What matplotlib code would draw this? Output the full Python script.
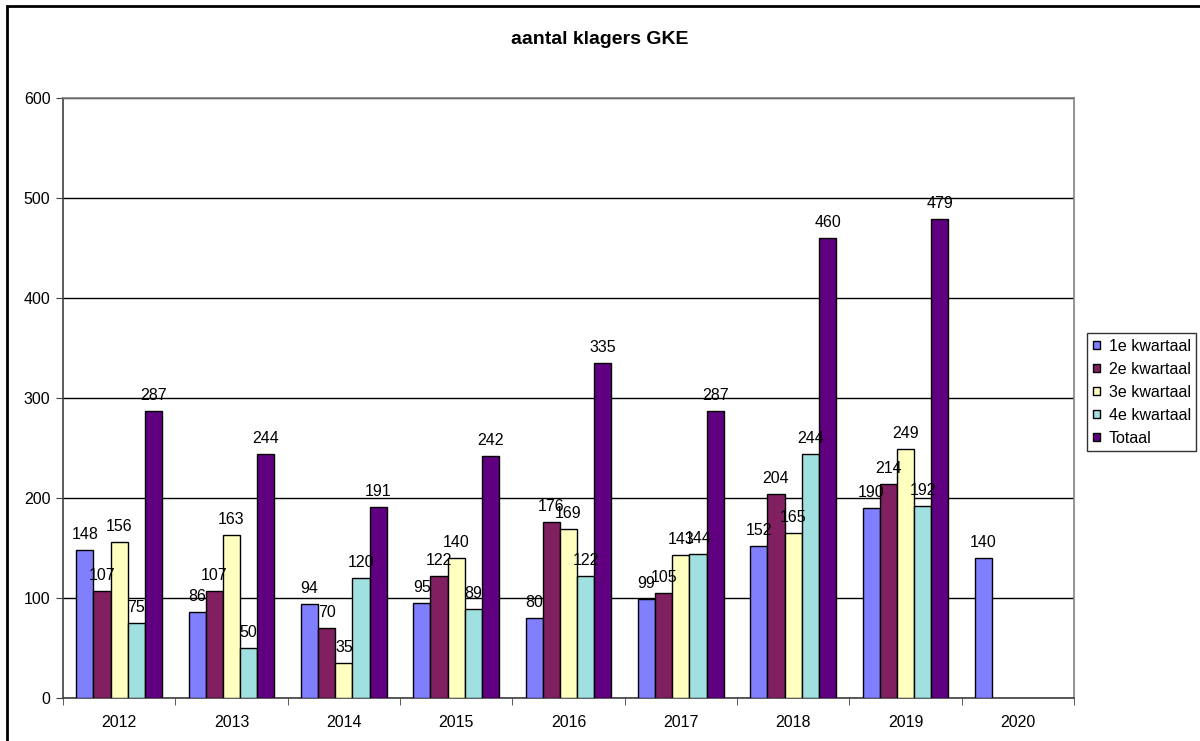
import matplotlib.pyplot as plt
import numpy as np
from matplotlib.patches import Rectangle

plt.rcParams['font.family'] = ['Liberation Sans', 'DejaVu Sans']

years = ["2012", "2013", "2014", "2015", "2016", "2017", "2018", "2019", "2020"]
kw1 = [148, 86, 94, 95, 80, 99, 152, 190, 140]
kw2 = [107, 107, 70, 122, 176, 105, 204, 214, None]
kw3 = [156, 163, 35, 140, 169, 143, 165, 249, None]
kw4 = [75, 50, 120, 89, 122, 144, 244, 192, None]
totaal = [287, 244, 191, 242, 335, 287, 460, 479, None]

series = [
    ("1e kwartaal", kw1, "#8080FF"),
    ("2e kwartaal", kw2, "#802060"),
    ("3e kwartaal", kw3, "#FFFFC0"),
    ("4e kwartaal", kw4, "#A0E0E0"),
    ("Totaal", totaal, "#600080"),
]

fs = 11.5

fig = plt.figure(figsize=(12, 7.41), dpi=100)
ax = fig.add_axes([63 / 1200, 1 - 698 / 741, (1074 - 63) / 1200, 600 / 741])

x = np.arange(len(years))
w = 0.153
for k, (name, vals, col) in enumerate(series):
    xs = [x[i] + (k - 2) * w for i in range(len(years)) if vals[i] is not None]
    vs = [v for v in vals if v is not None]
    ax.bar(xs, vs, width=w, color=col, edgecolor="black", linewidth=1, label=name, zorder=3)
    for xi, v in zip(xs, vs):
        ax.annotate(str(v), (xi, v), xytext=(0, 6), textcoords="offset points",
                    ha="center", va="bottom", fontsize=fs, zorder=4)

ax.set_xlim(-0.5, len(years) - 0.5)
ax.set_ylim(0, 600)
ax.set_yticks(range(0, 601, 100))
ax.yaxis.grid(True, color="black", linewidth=1, zorder=0)
ax.set_xticks(x)
ax.set_xticklabels(years, fontsize=fs)
ax.set_xticks(np.arange(-0.5, len(years)), minor=True)
ax.tick_params(axis="x", which="major", length=0, pad=12)
ax.tick_params(axis="x", which="minor", length=5, direction="out", color="#404040")
ax.tick_params(axis="y", length=5, direction="out", labelsize=fs, color="#404040", pad=4)
for s in ax.spines.values():
    s.set_color("#808080")
    s.set_linewidth(1.2)
ax.spines["bottom"].set_color("#404040")
ax.spines["left"].set_color("#404040")

fig.text(0.5, 1 - 40 / 741, "aantal klagers GKE", ha="center", va="center",
         fontsize=14, fontweight="bold")

leg = fig.legend(loc="upper left", bbox_to_anchor=(1087 / 1200, 1 - 333 / 741),
                 fontsize=fs, frameon=True, fancybox=False, edgecolor="black",
                 handlelength=0.45, handleheight=0.45, handletextpad=0.55,
                 labelspacing=0.5, borderpad=0.35, borderaxespad=0)
leg.get_frame().set_linewidth(1)

fig.patches.append(Rectangle((7 / 1200, -0.1), 1.2, 1 - 6 / 741 + 0.1, transform=fig.transFigure,
                             fill=False, edgecolor="black", linewidth=2))

fig.savefig("out.png", dpi=100)
